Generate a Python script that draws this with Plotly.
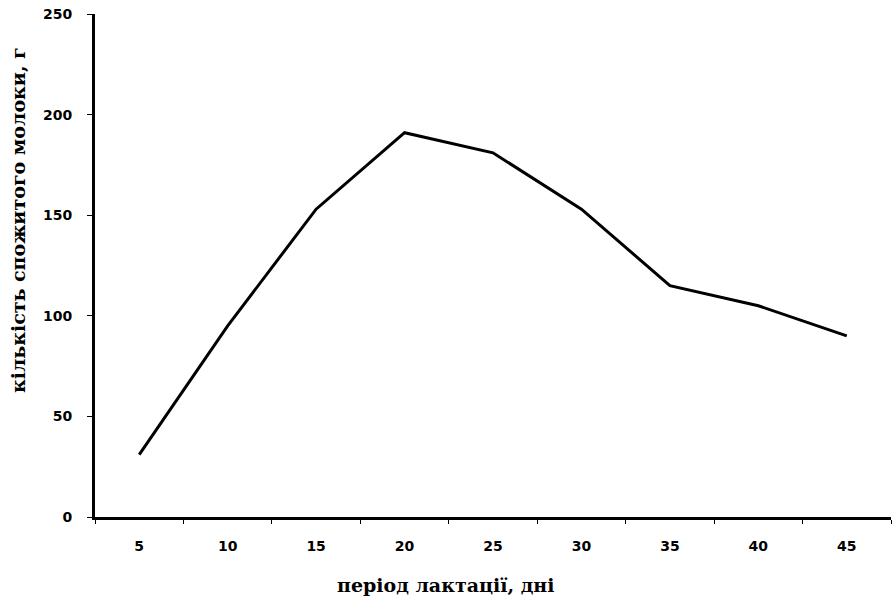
import plotly.graph_objects as go

# Lactation period (days) and amount of milk consumed (g)
days = ["5", "10", "15", "20", "25", "30", "35", "40", "45"]
milk_g = [31, 95, 153, 191, 181, 153, 115, 105, 90]
y_ticks = [0, 50, 100, 150, 200, 250]

x_title = "період лактації, дні"
y_title = "кількість спожитого молоки, г"

fig = go.Figure(
    go.Scatter(
        x=days,
        y=milk_g,
        mode="lines",
        line=dict(color="black", width=3),
        hoverinfo="x+y",
    )
)

tick_font = dict(family="DejaVu Sans", size=14, color="black", weight="bold")
title_font = dict(family="DejaVu Serif", size=19, color="black", weight="bold")

fig.update_layout(
    width=895,
    height=599,
    margin=dict(l=95, r=4, t=14, b=82),
    paper_bgcolor="white",
    plot_bgcolor="white",
    showlegend=False,
    xaxis=dict(
        type="category",
        range=[-0.5, 8.5],
        showgrid=False,
        zeroline=False,
        showline=True,
        linecolor="black",
        linewidth=3,
        ticks="outside",
        tickson="boundaries",
        ticklen=4,
        tickwidth=1,
        tickcolor="black",
        tickfont=tick_font,
        ticklabelstandoff=14,
    ),
    yaxis=dict(
        range=[0, 250],
        tickvals=y_ticks,
        showgrid=False,
        zeroline=False,
        showline=True,
        linecolor="black",
        linewidth=3,
        ticks="outside",
        ticklen=5,
        tickwidth=1,
        tickcolor="black",
        tickfont=tick_font,
        ticklabelstandoff=12,
    ),
    annotations=[
        dict(
            text=x_title,
            xref="paper",
            yref="paper",
            x=(445 - 95) / 796,
            y=(517 - 585) / 503,
            xanchor="center",
            yanchor="middle",
            showarrow=False,
            font=title_font,
        ),
        dict(
            text=y_title,
            xref="paper",
            yref="paper",
            x=(18 - 95) / 796,
            y=(517 - 220) / 503,
            xanchor="center",
            yanchor="middle",
            textangle=-90,
            showarrow=False,
            font=title_font,
        ),
    ],
)

fig.write_html("out.html")
